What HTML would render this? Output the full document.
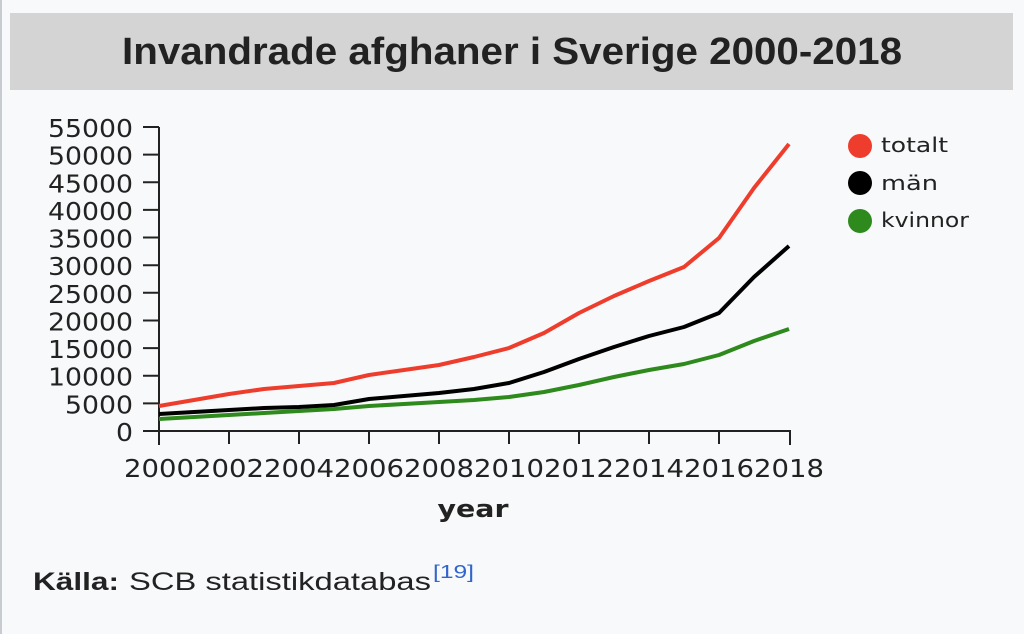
<!DOCTYPE html>
<html><head><meta charset="utf-8"><style>
html,body{margin:0;padding:0;background:#f8f9fa;}
body{width:1024px;height:634px;overflow:hidden;position:relative;}
</style></head><body>
<svg width="1024" height="634" viewBox="0 0 1024 634" xmlns="http://www.w3.org/2000/svg" style="position:absolute;left:0;top:0">
<rect x="0" y="0" width="1024" height="634" fill="#f8f9fa"/>
<rect x="0" y="0" width="2" height="634" fill="#c8ccd1"/>
<rect x="10" y="13" width="1003" height="77" fill="#d4d4d4"/>
<text x="512" y="64" text-anchor="middle" font-family="Liberation Sans, sans-serif" font-weight="bold" font-size="38" fill="#222" textLength="780" lengthAdjust="spacingAndGlyphs">Invandrade afghaner i Sverige 2000-2018</text>
<g font-family="DejaVu Sans, sans-serif" font-size="25" fill="#222" text-anchor="end">
<text x="133" y="137" textLength="85" lengthAdjust="spacingAndGlyphs">55000</text>
<text x="133" y="164.6" textLength="85" lengthAdjust="spacingAndGlyphs">50000</text>
<text x="133" y="192.3" textLength="85" lengthAdjust="spacingAndGlyphs">45000</text>
<text x="133" y="219.9" textLength="85" lengthAdjust="spacingAndGlyphs">40000</text>
<text x="133" y="247.5" textLength="85" lengthAdjust="spacingAndGlyphs">35000</text>
<text x="133" y="275.2" textLength="85" lengthAdjust="spacingAndGlyphs">30000</text>
<text x="133" y="302.8" textLength="85" lengthAdjust="spacingAndGlyphs">25000</text>
<text x="133" y="330.5" textLength="85" lengthAdjust="spacingAndGlyphs">20000</text>
<text x="133" y="358.1" textLength="85" lengthAdjust="spacingAndGlyphs">15000</text>
<text x="133" y="385.7" textLength="85" lengthAdjust="spacingAndGlyphs">10000</text>
<text x="133" y="413.4" textLength="68" lengthAdjust="spacingAndGlyphs">5000</text>
<text x="133" y="441" textLength="17" lengthAdjust="spacingAndGlyphs">0</text>
</g>
<g stroke="#222" stroke-width="2" fill="none">
<path d="M159,127V445M159,431H790V445"/>
<path d="M143,127H159M143,154.6H159M143,182.3H159M143,209.9H159M143,237.5H159M143,265.2H159M143,292.8H159M143,320.5H159M143,348.1H159M143,375.7H159M143,403.4H159M143,431H159"/>
<path d="M229,431V444M299,431V444M369,431V444M439,431V444M509,431V444M579,431V444M649,431V444M719,431V444"/>
</g>
<g font-family="DejaVu Sans, sans-serif" font-size="25" fill="#222" text-anchor="middle">
<text x="159" y="477" textLength="70" lengthAdjust="spacingAndGlyphs">2000</text>
<text x="229" y="477" textLength="70" lengthAdjust="spacingAndGlyphs">2002</text>
<text x="299" y="477" textLength="70" lengthAdjust="spacingAndGlyphs">2004</text>
<text x="369" y="477" textLength="70" lengthAdjust="spacingAndGlyphs">2006</text>
<text x="439" y="477" textLength="70" lengthAdjust="spacingAndGlyphs">2008</text>
<text x="509" y="477" textLength="70" lengthAdjust="spacingAndGlyphs">2010</text>
<text x="579" y="477" textLength="70" lengthAdjust="spacingAndGlyphs">2012</text>
<text x="649" y="477" textLength="70" lengthAdjust="spacingAndGlyphs">2014</text>
<text x="719" y="477" textLength="70" lengthAdjust="spacingAndGlyphs">2016</text>
<text x="789" y="477" textLength="70" lengthAdjust="spacingAndGlyphs">2018</text>
</g>
<text x="473" y="517" text-anchor="middle" font-family="DejaVu Sans, sans-serif" font-weight="bold" font-size="24" fill="#222" textLength="71" lengthAdjust="spacingAndGlyphs">year</text>
<g fill="none" stroke-width="4" stroke-linejoin="round">
<polyline stroke="#2e8a1c" points="159,419 194,417 229,415 264,413 299,411 334,409 369,406 404,404 439,402 474,400 509,397 544,392 579,385 614,377 649,370 684,364 719,355 754,341 789,329"/>
<polyline stroke="#000" points="159,414 194,412 229,410 264,408 299,407 334,405 369,399 404,396 439,393 474,389 509,383 544,372 579,359 614,347 649,336 684,327 719,313 754,277 789,246"/>
<polyline stroke="#ee3d2c" points="159,406 194,400 229,394 264,389 299,386 334,383 369,375 404,370 439,365 474,357 509,348 544,333 579,313 614,296 649,281 684,267 719,238 754,188 789,144"/>
</g>
<circle cx="860" cy="146" r="12" fill="#ee3d2c"/>
<circle cx="860" cy="183" r="12" fill="#000"/>
<circle cx="860" cy="221" r="12" fill="#2e8a1c"/>
<g font-family="DejaVu Sans, sans-serif" font-size="20" fill="#222">
<text x="881" y="152" textLength="67" lengthAdjust="spacingAndGlyphs">totalt</text>
<text x="881" y="190" textLength="57" lengthAdjust="spacingAndGlyphs">män</text>
<text x="881" y="227" textLength="88" lengthAdjust="spacingAndGlyphs">kvinnor</text>
</g>
<text x="33" y="590" font-family="Liberation Sans, sans-serif" font-size="25" font-weight="bold" fill="#222" textLength="86" lengthAdjust="spacingAndGlyphs">Källa:</text>
<text x="129" y="590" font-family="Liberation Sans, sans-serif" font-size="25" fill="#222" textLength="302" lengthAdjust="spacingAndGlyphs">SCB statistikdatabas</text>
<text x="433" y="578" font-family="Liberation Sans, sans-serif" font-size="18" fill="#3366cc" textLength="41" lengthAdjust="spacingAndGlyphs">[19]</text>
</svg>
</body></html>
